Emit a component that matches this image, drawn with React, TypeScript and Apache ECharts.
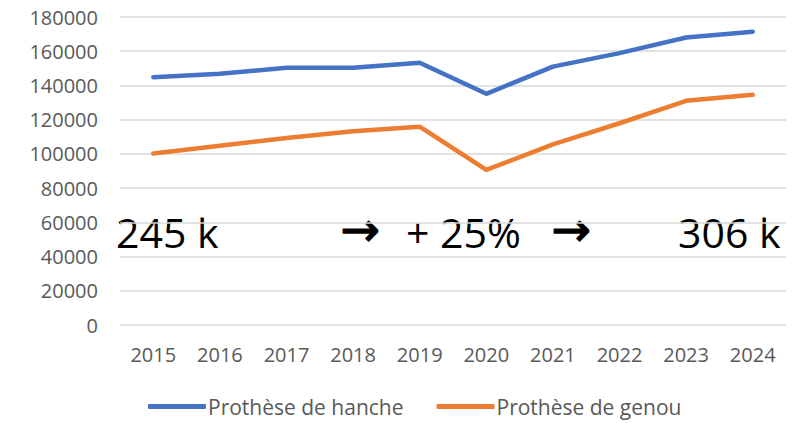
import React, { useEffect, useRef } from "react";
import * as echarts from "echarts";

const years = ["2015", "2016", "2017", "2018", "2019", "2020", "2021", "2022", "2023", "2024"];
const hanche = [144800, 146800, 150300, 150300, 153300, 135100, 151000, 158900, 168000, 171400];
const genou = [100200, 104800, 109300, 113200, 115900, 90600, 105600, 117900, 131000, 134500];
const yTicks = { min: 0, max: 180000, interval: 20000 };
const seriesNames = ["Prothèse de hanche", "Prothèse de genou"];
const annotations = ["245 k", "→", "+ 25%", "→", "306 k"];

const FONT = "'Open Sans', 'Noto Sans', sans-serif";
const ARROW_FONT = "'DejaVu Sans', sans-serif";

export default function App() {
  const ref = useRef<HTMLDivElement>(null);
  useEffect(() => {
    if (!ref.current) return;
    const chart = echarts.init(ref.current, undefined, { renderer: "svg" });
    const arrow = (left: number, text: string) => ({
      type: "text",
      left,
      top: 205,
      style: {
        text,
        fontSize: 47,
        fontFamily: ARROW_FONT,
        fill: "#000",
        stroke: "#000",
        lineWidth: 1.2,
      },
    });
    chart.setOption({
      animation: false,
      backgroundColor: "#ffffff",
      grid: { left: 120, right: 14, top: 17, bottom: 98, containLabel: false },
      xAxis: {
        type: "category",
        data: years,
        boundaryGap: true,
        axisLine: { show: false },
        axisTick: { show: false },
        axisLabel: { color: "#595959", fontSize: 20, fontFamily: FONT, margin: 19 },
      },
      yAxis: {
        type: "value",
        min: yTicks.min,
        max: yTicks.max,
        interval: yTicks.interval,
        axisLine: { show: false },
        axisTick: { show: false },
        axisLabel: {
          color: "#595959",
          fontSize: 20,
          fontFamily: FONT,
          margin: 22,
          formatter: (v: number) => String(v),
        },
        splitLine: { lineStyle: { color: "#d9d9d9", width: 1.5 } },
      },
      legend: {
        bottom: 1,
        left: 143,
        itemWidth: 58,
        itemHeight: 5,
        itemGap: 33,
        icon: "roundRect",
        textStyle: { color: "#595959", fontSize: 21, fontFamily: FONT, padding: [0, 0, 0, -3] },
        data: seriesNames,
      },
      series: [
        {
          name: seriesNames[0],
          type: "line",
          data: hanche,
          symbol: "none",
          itemStyle: { color: "#4472C4" },
          lineStyle: { color: "#4472C4", width: 4.5, cap: "round", join: "round" },
        },
        {
          name: seriesNames[1],
          type: "line",
          data: genou,
          symbol: "none",
          itemStyle: { color: "#ED7D31" },
          lineStyle: { color: "#ED7D31", width: 4.5, cap: "round", join: "round" },
        },
      ],
      graphic: [
        { type: "text", left: 116, top: 211, style: { text: annotations[0], fontSize: 41, fontFamily: FONT, fill: "#000" } },
        arrow(340, annotations[1]),
        { type: "text", left: 406, top: 211, style: { text: annotations[2], fontSize: 41, fontFamily: FONT, fill: "#000" } },
        arrow(551, annotations[3]),
        { type: "text", left: 678, top: 211, style: { text: annotations[4], fontSize: 41, fontFamily: FONT, fill: "#000" } },
      ],
    });
    return () => chart.dispose();
  }, []);
  return <div ref={ref} style={{ width: 800, height: 423, position: "absolute", left: 0, top: 0 }} />;
}
